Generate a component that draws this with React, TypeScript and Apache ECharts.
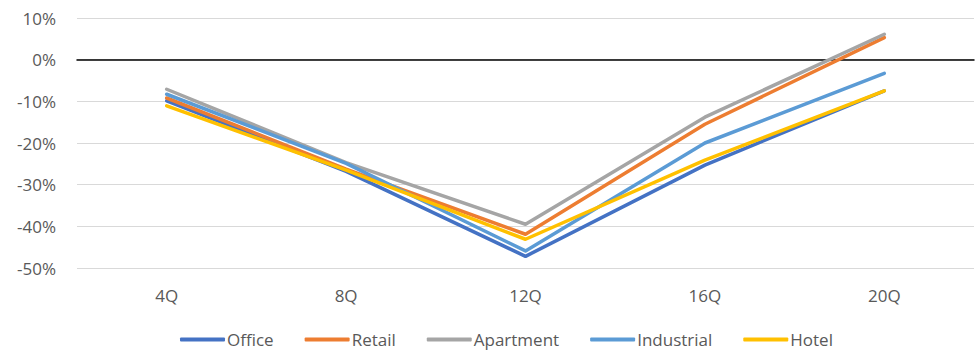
import React, { useEffect, useRef } from "react";
import * as echarts from "echarts";

const categories = ["4Q", "8Q", "12Q", "16Q", "20Q"];
const office = [-9.9, -26.8, -47.2, -25.3, -7.5];
const retail = [-9.2, -26.3, -41.9, -15.5, 5.3];
const apartment = [-7.1, -24.7, -39.5, -13.8, 6.1];
const industrial = [-8.3, -24.9, -45.9, -20.0, -3.3];
const hotel = [-11.1, -26.5, -43.1, -24.1, -7.5];
const yTicks = { min: -50, max: 10, interval: 10 };

const seriesDefs = [
  { name: "Office", data: office, color: "#4472C4" },
  { name: "Retail", data: retail, color: "#ED7D31" },
  { name: "Apartment", data: apartment, color: "#A5A5A5" },
  { name: "Industrial", data: industrial, color: "#5B9BD5" },
  { name: "Hotel", data: hotel, color: "#FFC000" },
];

const FONT = "'Open Sans', 'Noto Sans', sans-serif";

export default function App() {
  const ref = useRef<HTMLDivElement>(null);

  useEffect(() => {
    if (!ref.current) return;
    const chart = echarts.init(ref.current, undefined, { renderer: "svg" });
    chart.setOption({
      animation: false,
      backgroundColor: "#ffffff",
      grid: { left: 77, right: 1, top: 18, bottom: 85, containLabel: false },
      legend: {
        top: 326,
        left: 175,
        icon: "roundRect",
        itemWidth: 45,
        itemHeight: 4,
        itemGap: 31,
        textStyle: { fontFamily: FONT, fontSize: 17, color: "#595959", padding: [0, 0, 0, -3] },
        data: seriesDefs.map((s) => s.name),
      },
      xAxis: {
        type: "category",
        data: categories,
        boundaryGap: true,
        axisLine: { onZero: true, lineStyle: { color: "#000000", width: 1.5 } },
        axisTick: { show: false },
        axisLabel: {
          fontFamily: FONT,
          fontSize: 17,
          color: "#595959",
          margin: 19,
        },
        splitLine: { show: false },
        position: "bottom",
      },
      yAxis: {
        type: "value",
        min: yTicks.min,
        max: yTicks.max,
        interval: yTicks.interval,
        axisLine: { show: false },
        axisTick: { show: false },
        axisLabel: {
          fontFamily: FONT,
          fontSize: 17,
          color: "#595959",
          margin: 21,
          formatter: (v: number) => `${v}%`,
        },
        splitLine: { lineStyle: { color: "#D9D9D9", width: 1 } },
      },
      series: seriesDefs.map((s) => ({
        name: s.name,
        type: "line",
        data: s.data,
        symbol: "none",
        color: s.color,
        lineStyle: { color: s.color, width: 3.5, cap: "round", join: "round" },
      })),
    });
    return () => chart.dispose();
  }, []);

  return <div ref={ref} style={{ width: 975, height: 353, position: "absolute", left: 0, top: 0 }} />;
}
